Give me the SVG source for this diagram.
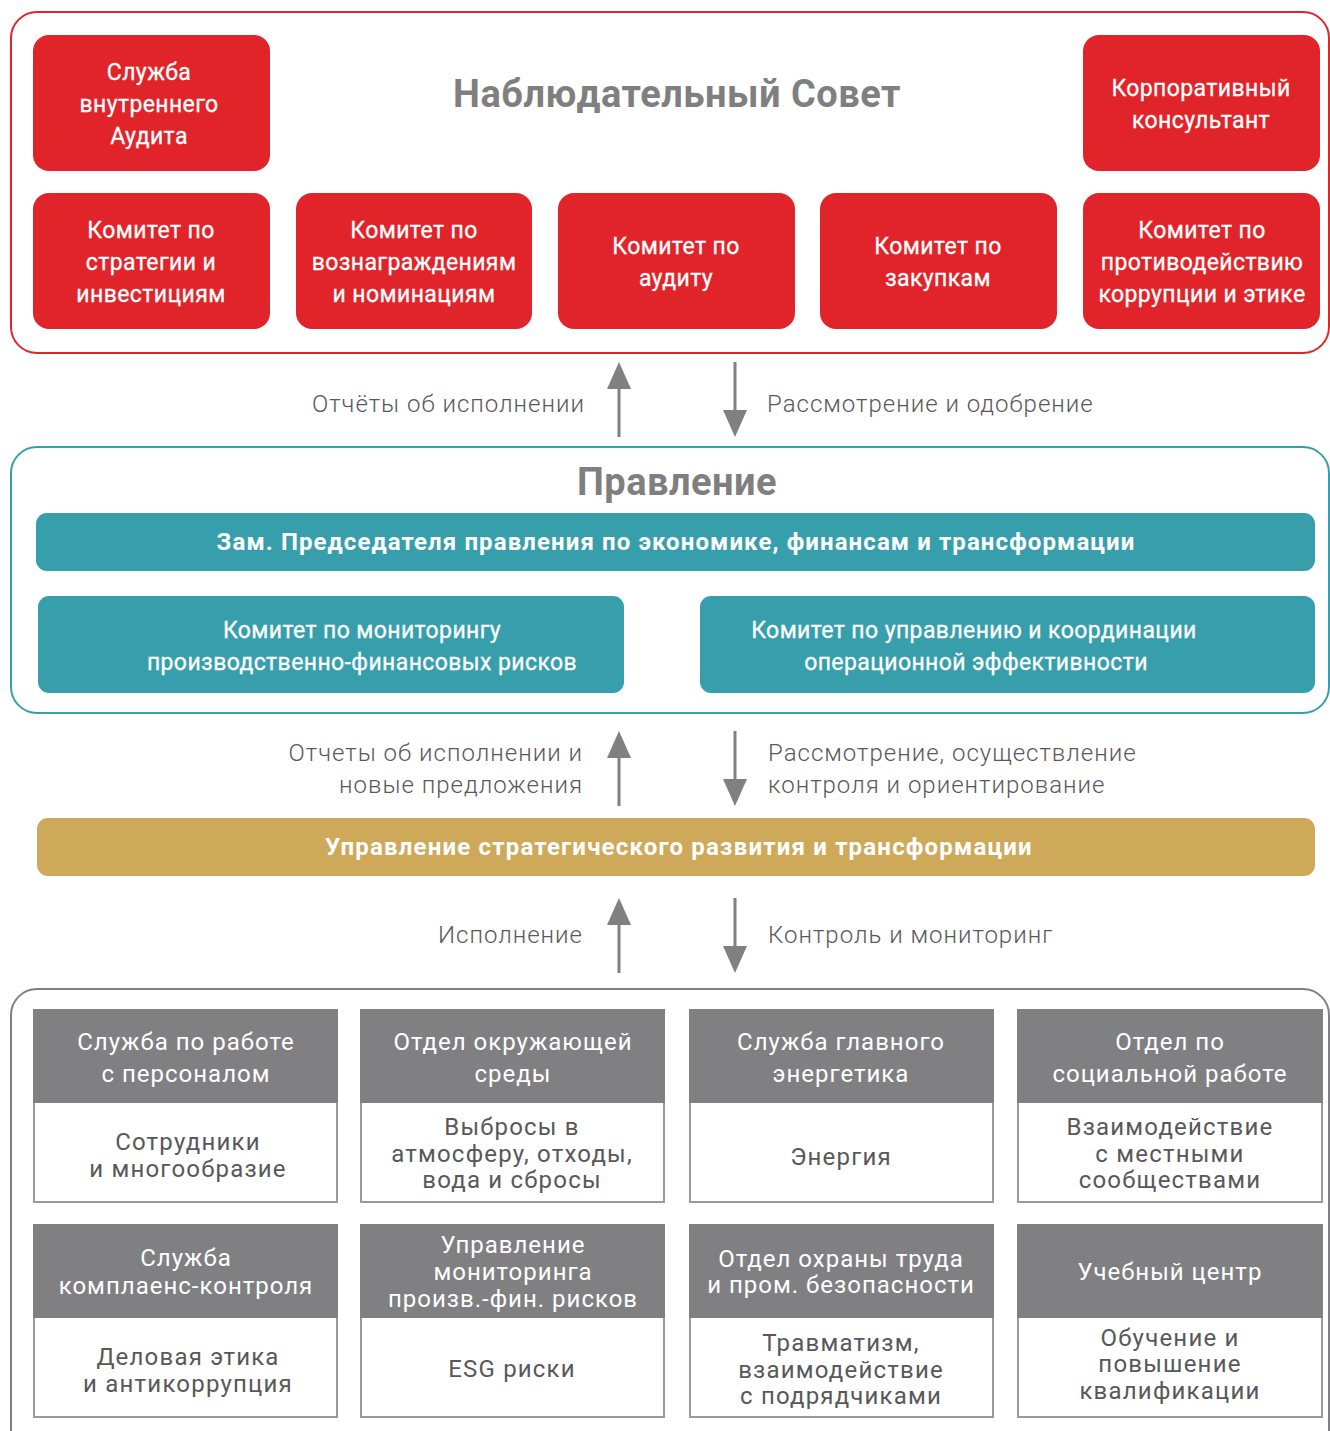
<svg xmlns="http://www.w3.org/2000/svg" width="1330" height="1431" viewBox="0 0 1330 1431">
<style>
.t{font-family:Roboto,"Noto Sans","DejaVu Sans",sans-serif;text-anchor:middle}
.rb{fill:#e1242a}
.wt{fill:#fff;stroke:#fff;stroke-width:0.3px;font-size:23px;font-weight:400;letter-spacing:0.4px}
.ttl{fill:#7f7f80;font-size:38px;font-weight:700;letter-spacing:0.5px}
.tl{fill:#379fac}
.bar{fill:#fff;font-size:24px;font-weight:700;letter-spacing:1.1px}
.lbl{font-family:Roboto,"Noto Sans","DejaVu Sans",sans-serif;fill:#58585a;font-size:24px;font-weight:300;letter-spacing:1px}
.hd{fill:#808083}
.bd{fill:#fff;stroke:#9a9a9c;stroke-width:2}
.hw{fill:#fff;font-size:24px;font-weight:400;letter-spacing:1px}
.bt{fill:#58585a;font-size:24px;font-weight:400;letter-spacing:1.2px}
.ar{stroke:#808083;stroke-width:3;fill:none}
.ah{fill:#808083}
</style>

<!-- Frames -->
<rect id="frame-board" x="11" y="12" width="1318" height="341" rx="26" fill="none" stroke="#e1242a" stroke-width="2"/>
<rect id="frame-mgmt" x="11" y="447" width="1318" height="266" rx="26" fill="none" stroke="#379fac" stroke-width="2"/>
<rect id="frame-depts" x="11" y="989" width="1318" height="480" rx="26" fill="none" stroke="#808083" stroke-width="2"/>

<g id="board-title"><text class="t ttl" x="677" y="107">Наблюдательный Совет</text></g>

<g id="n-audit-service"><rect class="rb" x="33" y="35" width="237" height="136" rx="16"/>
<text class="t wt" x="149" y="80">Служба</text><text class="t wt" x="149" y="112">внутреннего</text><text class="t wt" x="149" y="144">Аудита</text></g>
<g id="n-corp-consultant"><rect class="rb" x="1083" y="35" width="237" height="136" rx="16"/>
<text class="t wt" x="1201" y="96">Корпоративный</text><text class="t wt" x="1201" y="128">консультант</text></g>

<g id="n-strategy"><rect class="rb" x="33" y="193" width="237" height="136" rx="16"/>
<text class="t wt" x="151" y="238">Комитет по</text><text class="t wt" x="151" y="270">стратегии и</text><text class="t wt" x="151" y="302">инвестициям</text></g>
<g id="n-rewards"><rect class="rb" x="296" y="193" width="236" height="136" rx="16"/>
<text class="t wt" x="414" y="238">Комитет по</text><text class="t wt" x="414" y="270">вознаграждениям</text><text class="t wt" x="414" y="302">и номинациям</text></g>
<g id="n-audit-comm"><rect class="rb" x="558" y="193" width="237" height="136" rx="16"/>
<text class="t wt" x="676" y="254">Комитет по</text><text class="t wt" x="676" y="286">аудиту</text></g>
<g id="n-procure"><rect class="rb" x="820" y="193" width="237" height="136" rx="16"/>
<text class="t wt" x="938" y="254">Комитет по</text><text class="t wt" x="938" y="286">закупкам</text></g>
<g id="n-anticorr"><rect class="rb" x="1083" y="193" width="237" height="136" rx="16"/>
<text class="t wt" x="1202" y="238">Комитет по</text><text class="t wt" x="1202" y="270">противодействию</text><text class="t wt" x="1202" y="302">коррупции и этике</text></g>

<g id="mgmt-title"><text class="t ttl" x="677" y="495">Правление</text></g>
<g id="n-deputy"><rect class="tl" x="36" y="513" width="1279" height="58" rx="11"/>
<text class="t bar" x="676" y="550">Зам. Председателя правления по экономике, финансам и трансформации</text></g>
<g id="n-risk-comm"><rect class="tl" x="38" y="596" width="586" height="97" rx="11"/>
<text class="t wt" x="362" y="638">Комитет по мониторингу</text><text class="t wt" x="362" y="670">производственно-финансовых рисков</text></g>
<g id="n-opeff-comm"><rect class="tl" x="700" y="596" width="615" height="97" rx="11"/>
<text class="t wt" x="974" y="638">Комитет по управлению и координации</text><text class="t wt" x="976" y="670">операционной эффективности</text></g>

<g id="n-strategic-dev"><rect fill="#cfa95a" x="37" y="818" width="1278" height="58" rx="11"/>
<text class="t bar" x="679" y="855" style="letter-spacing:1.2px">Управление стратегического развития и трансформации</text></g>

<!-- Connectors -->
<g id="connectors">
<line class="ar" x1="619" y1="437" x2="619" y2="385"/><polygon class="ah" points="619,362 607,389 631,389"/>
<line class="ar" x1="735" y1="362" x2="735" y2="414"/><polygon class="ah" points="735,437 723,410 747,410"/>
<text class="lbl" x="585" y="412" text-anchor="end">Отчёты об исполнении</text>
<text class="lbl" x="767" y="412">Рассмотрение и одобрение</text>

<line class="ar" x1="619" y1="806" x2="619" y2="754"/><polygon class="ah" points="619,731 607,758 631,758"/>
<line class="ar" x1="735" y1="731" x2="735" y2="783"/><polygon class="ah" points="735,806 723,779 747,779"/>
<text class="lbl" x="583" y="761" text-anchor="end">Отчеты об исполнении и</text>
<text class="lbl" x="583" y="793" text-anchor="end">новые предложения</text>
<text class="lbl" x="768" y="761">Рассмотрение, осуществление</text>
<text class="lbl" x="768" y="793">контроля и ориентирование</text>

<line class="ar" x1="619" y1="973" x2="619" y2="921"/><polygon class="ah" points="619,898 607,925 631,925"/>
<line class="ar" x1="735" y1="898" x2="735" y2="950"/><polygon class="ah" points="735,973 723,946 747,946"/>
<text class="lbl" x="583" y="943" text-anchor="end">Исполнение</text>
<text class="lbl" x="768" y="943">Контроль и мониторинг</text>
</g>

<!-- Departments row 1 -->
<g id="d-hr"><rect class="bd" x="34" y="1010" width="303" height="192"/><rect class="hd" x="33" y="1009" width="305" height="94"/>
<text class="t hw" x="186" y="1050">Служба по работе</text><text class="t hw" x="186" y="1082">с персоналом</text>
<text class="t bt" x="188" y="1150">Сотрудники</text><text class="t bt" x="188" y="1177">и многообразие</text></g>
<g id="d-env"><rect class="bd" x="361" y="1010" width="303" height="192"/><rect class="hd" x="360" y="1009" width="305" height="94"/>
<text class="t hw" x="513" y="1050">Отдел окружающей</text><text class="t hw" x="513" y="1082">среды</text>
<text class="t bt" x="512" y="1135">Выбросы в</text><text class="t bt" x="512" y="1162">атмосферу, отходы,</text><text class="t bt" x="512" y="1188">вода и сбросы</text></g>
<g id="d-energy"><rect class="bd" x="690" y="1010" width="303" height="192"/><rect class="hd" x="689" y="1009" width="305" height="94"/>
<text class="t hw" x="841" y="1050">Служба главного</text><text class="t hw" x="841" y="1082">энергетика</text>
<text class="t bt" x="841" y="1165">Энергия</text></g>
<g id="d-social"><rect class="bd" x="1018" y="1010" width="304" height="192"/><rect class="hd" x="1017" y="1009" width="306" height="94"/>
<text class="t hw" x="1170" y="1050">Отдел по</text><text class="t hw" x="1170" y="1082">социальной работе</text>
<text class="t bt" x="1170" y="1135">Взаимодействие</text><text class="t bt" x="1170" y="1162">с местными</text><text class="t bt" x="1170" y="1188">сообществами</text></g>

<!-- Departments row 2 -->
<g id="d-compliance"><rect class="bd" x="34" y="1225" width="303" height="192"/><rect class="hd" x="33" y="1224" width="305" height="94"/>
<text class="t hw" x="186" y="1266">Служба</text><text class="t hw" x="186" y="1294">комплаенс-контроля</text>
<text class="t bt" x="188" y="1365">Деловая этика</text><text class="t bt" x="188" y="1392">и антикоррупция</text></g>
<g id="d-riskmon"><rect class="bd" x="361" y="1225" width="303" height="192"/><rect class="hd" x="360" y="1224" width="305" height="94"/>
<text class="t hw" x="513" y="1253">Управление</text><text class="t hw" x="513" y="1280">мониторинга</text><text class="t hw" x="513" y="1307">произв.-фин. рисков</text>
<text class="t bt" x="512" y="1377">ESG риски</text></g>
<g id="d-safety"><rect class="bd" x="690" y="1225" width="303" height="192"/><rect class="hd" x="689" y="1224" width="305" height="94"/>
<text class="t hw" x="841" y="1267">Отдел охраны труда</text><text class="t hw" x="841" y="1293">и пром. безопасности</text>
<text class="t bt" x="841" y="1351">Травматизм,</text><text class="t bt" x="841" y="1378">взаимодействие</text><text class="t bt" x="841" y="1404">с подрядчиками</text></g>
<g id="d-training"><rect class="bd" x="1018" y="1225" width="304" height="192"/><rect class="hd" x="1017" y="1224" width="306" height="94"/>
<text class="t hw" x="1170" y="1280">Учебный центр</text>
<text class="t bt" x="1170" y="1346">Обучение и</text><text class="t bt" x="1170" y="1372">повышение</text><text class="t bt" x="1170" y="1399">квалификации</text></g>
</svg>
